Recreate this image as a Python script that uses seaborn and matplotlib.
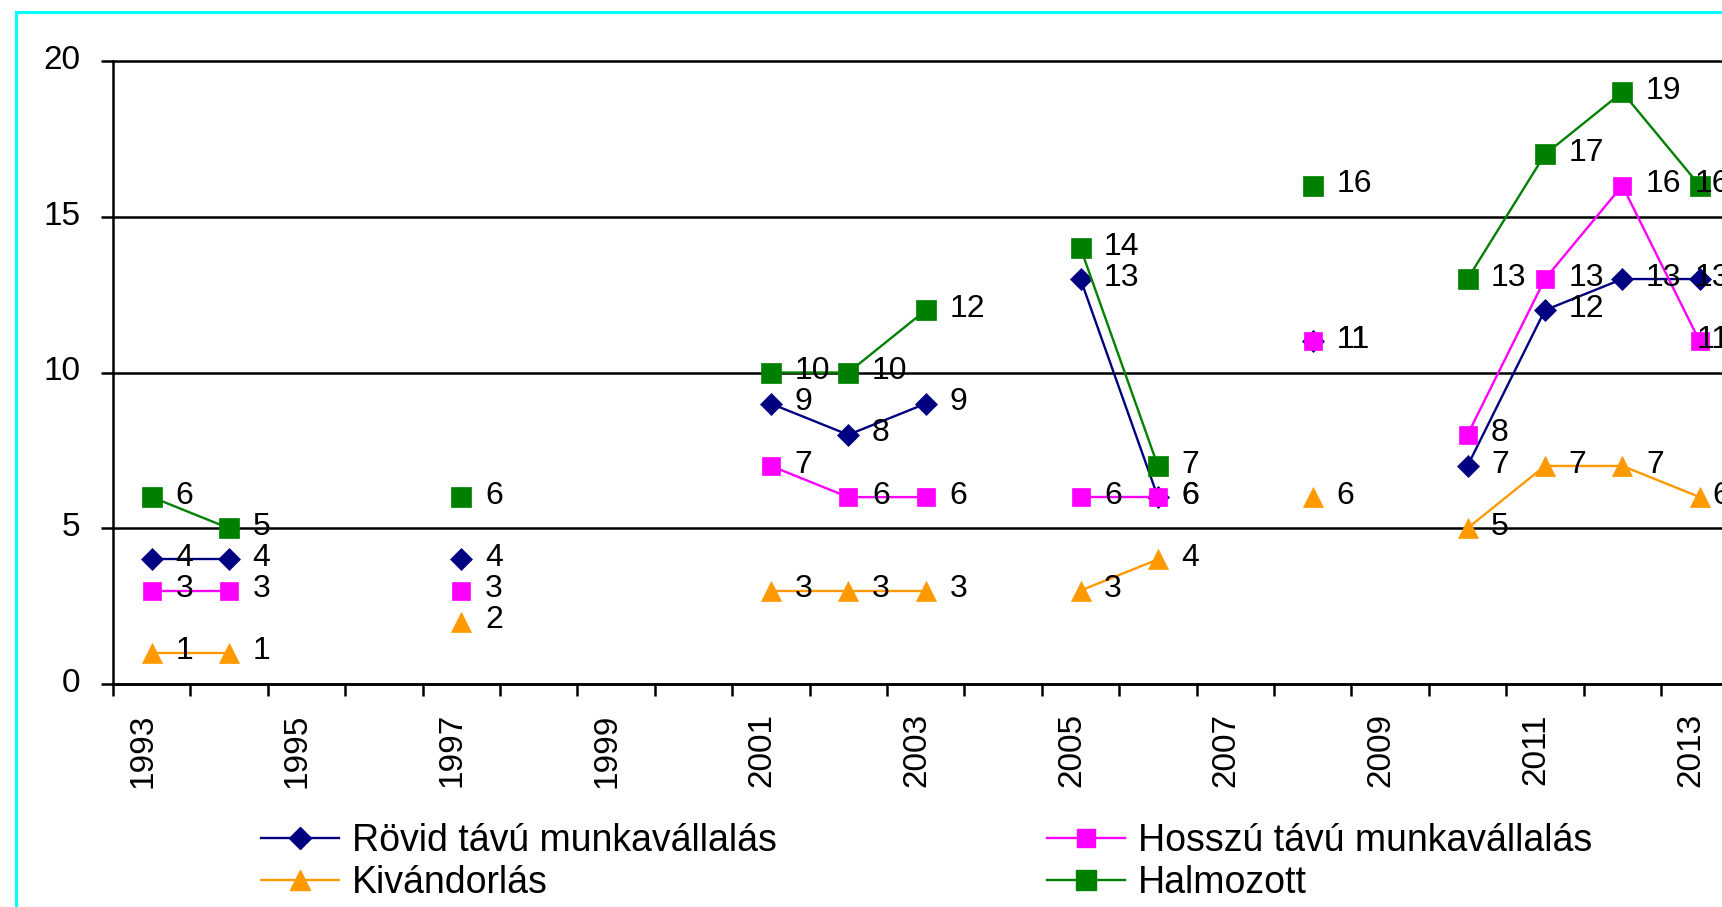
import numpy as np
import pandas as pd
import matplotlib
matplotlib.use("Agg")
import matplotlib.pyplot as plt
import seaborn as sns
from matplotlib.lines import Line2D
from matplotlib.transforms import ScaledTranslation

nan = np.nan
years = list(range(1993, 2014))
rovid = [4, 4, nan, nan, 4, nan, nan, nan, 9, 8, 9, nan, 13, 6, nan, 11, nan, 7, 12, 13, 13]
hosszu = [3, 3, nan, nan, 3, nan, nan, nan, 7, 6, 6, nan, 6, 6, nan, 11, nan, 8, 13, 16, 11]
kivandorlas = [1, 1, nan, nan, 2, nan, nan, nan, 3, 3, 3, nan, 3, 4, nan, 6, nan, 5, 7, 7, 6]
halmozott = [6, 5, nan, nan, 6, nan, nan, nan, 10, 10, 12, nan, 14, 7, nan, 16, nan, 13, 17, 19, 16]

names = ["Rövid távú munkavállalás", "Hosszú távú munkavállalás", "Kivándorlás", "Halmozott"]
colors = ["#000080", "#FF00FF", "#FF9900", "#008000"]
markers = ["D", "s", "^", "s"]
msizes = [11, 13, 15, 15]

plt.rcParams["font.family"] = ["Liberation Sans", "DejaVu Sans"]

fig = plt.figure(figsize=(17.22, 9.07), dpi=100)
ax = fig.add_axes([113 / 1722, 1 - 684 / 907, 1 - 113 / 1722, (684 - 61) / 907])

x = np.arange(len(years))
labels = []
for name, vals, c, m, ms in zip(names, [rovid, hosszu, kivandorlas, halmozott], colors, markers, msizes):
    df = pd.DataFrame({"x": x, "y": vals})
    # new segment after every gap so the lines break like in the original
    df["seg"] = df["y"].isna().cumsum()
    df = df.dropna()
    sns.lineplot(data=df, x="x", y="y", units="seg", estimator=None, color=c,
                 marker=m, markersize=ms, markeredgecolor=c, markeredgewidth=0.5,
                 linewidth=1.7, ax=ax, legend=False)
    for xi, yi in zip(df["x"], df["y"]):
        a = ax.annotate(f"{yi:g}", (xi, yi), xytext=(17, 1), textcoords="offset points",
                        ha="left", va="center", fontsize=23, annotation_clip=False)
        labels.append(a)

ax.set_xlabel("")
ax.set_ylabel("")

for s in ["top", "right"]:
    ax.spines[s].set_visible(False)
for s in ["left", "bottom"]:
    ax.spines[s].set_linewidth(1.8)
    ax.spines[s].set_color("black")

ax.set_yticks([0, 5, 10, 15, 20])
ax.yaxis.grid(True, color="black", linewidth=1.8)
ax.xaxis.grid(False)
for gl in ax.get_ygridlines():
    gl.set_clip_on(False)
ax.tick_params(axis="y", length=8.6, width=1.8, pad=15, labelsize=24)

ax.set_xticks(x[::2])
ax.set_xticklabels(years[::2], rotation=90)
ax.set_xticks(np.arange(-0.5, len(years), 1), minor=True)
ax.tick_params(axis="x", which="major", length=0, pad=21, labelsize=24)
ax.tick_params(axis="x", which="minor", length=8.6, width=1.8, direction="out")

# limits after the ticks, set_xticks would widen them otherwise
ax.set_ylim(0, 20)
ax.set_xlim(-0.5, -0.5 + (1722 - 113) / 77.4)

shift_x = ScaledTranslation(-9 / 100, 0, fig.dpi_scale_trans)
for lab in ax.get_xticklabels():
    lab.set_transform(lab.get_transform() + shift_x)
shift_y = ScaledTranslation(0, 4 / 100, fig.dpi_scale_trans)
for lab in ax.get_yticklabels():
    lab.set_transform(lab.get_transform() + shift_y)

# labels near the right edge get pushed back left, like Excel does it
fig.canvas.draw()
right_edge = 1730
for a in labels:
    bb = a.get_window_extent()
    if bb.x1 > right_edge:
        dx = (bb.x1 - right_edge) * 72 / fig.dpi
        ox, oy = a.xyann
        a.xyann = (ox - dx, oy)

# cyan frame around the chart area
fx = 16 / 1722
fy = 1 - 12 / 907
fig.add_artist(Line2D([fx, fx], [0, fy], color="#00FFFF", lw=2.2))
fig.add_artist(Line2D([fx, 1], [fy, fy], color="#00FFFF", lw=2.2))

handles = [Line2D([], [], color=c, marker=m, markersize=ms, markeredgecolor=c, lw=1.7)
           for c, m, ms in zip(colors, markers, msizes)]
leg_kw = dict(loc="center left", frameon=False, fontsize=27, handlelength=2.07,
              handletextpad=0.35, labelspacing=0.18, borderpad=0, borderaxespad=0)
fig.legend([handles[0], handles[2]], [names[0], names[2]],
           bbox_to_anchor=(261 / 1722, 1 - 862 / 907), **leg_kw)
fig.legend([handles[1], handles[3]], [names[1], names[3]],
           bbox_to_anchor=(1047 / 1722, 1 - 862 / 907), **leg_kw)

fig.savefig("out.png", dpi=100)
